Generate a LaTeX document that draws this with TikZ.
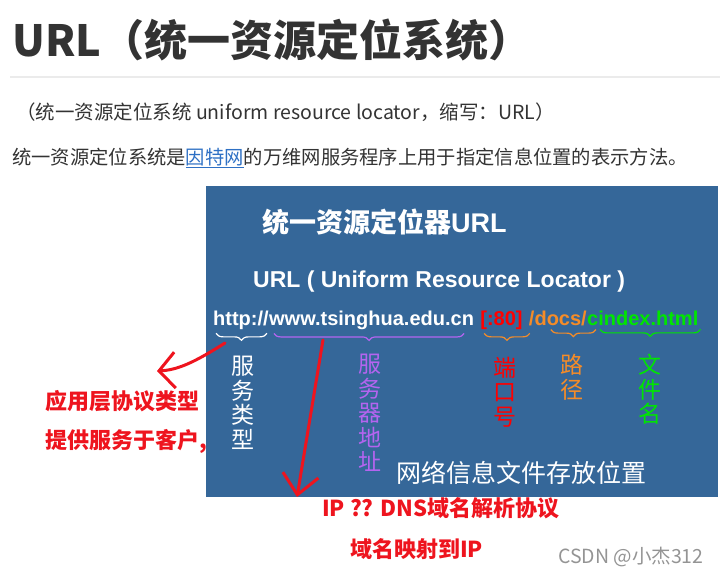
\documentclass[tikz,border=0pt]{standalone}
\usepackage{fontspec}
\setmainfont{Noto Sans CJK SC}
\newfontfamily\arialfont{Liberation Sans}
\usetikzlibrary{arrows.meta,positioning,decorations.pathreplacing}
\definecolor{titlegray}{RGB}{51,51,51}
\definecolor{linkblue}{RGB}{46,112,196}
\definecolor{boxblue}{RGB}{53,103,153}
\definecolor{hostpurple}{RGB}{180,100,240}
\definecolor{pathorange}{RGB}{245,140,40}
\definecolor{filegreen}{RGB}{0,230,0}
\definecolor{annred}{RGB}{238,20,30}

\begin{document}
\begin{tikzpicture}[x=1pt,y=-1pt,
  urltext/.style={font=\arialfont\bfseries\fontsize{20}{24}\selectfont, inner sep=0pt},
  vlabel/.style={font=\fontsize{23}{24.5}\selectfont, align=center, inner sep=0pt, anchor=north},
  note/.style={font=\bfseries\fontsize{22}{24}\selectfont, text=annred, inner sep=0pt, anchor=west},
  urlbrace/.style={decorate, decoration={brace, mirror, amplitude=7pt}, line width=1.2pt},
  handarrow/.style={draw=annred, line width=3pt, line cap=round, line join=round}]
\useasboundingbox (0,0) rectangle (720,577);

% page text
\node[anchor=west, inner sep=0pt, text=titlegray, font=\bfseries\fontsize{43}{48}\selectfont] (title) at (12,40) {URL（统一资源定位系统）};
\draw[black!8, line width=1.5pt] (10,77) -- (720,77);
\node[anchor=west, inner sep=0pt, text=titlegray, font=\fontsize{19.5}{22}\selectfont] (fullname) at (16,112) {（统一资源定位系统 uniform resource locator，缩写：URL）};
\node[anchor=west, inner sep=0pt, text=titlegray, font=\fontsize{19.3}{22}\selectfont] (definition) at (12,158) {统一资源定位系统是\textcolor{linkblue}{\underline{因特网}}的万维网服务程序上用于指定信息位置的表示方法。};

% blue slide
\fill[boxblue] (206,186) rectangle (718,497);
\node[anchor=west, inner sep=0pt, text=white, font=\bfseries\fontsize{27}{30}\selectfont] (slidetitle) at (262,222) {统一资源定位器\arialfont URL};
\node[urltext, text=white, anchor=west, font=\arialfont\bfseries\fontsize{23}{26}\selectfont] (expansion) at (253,282) {URL ( Uniform Resource Locator )};

\node[urltext, text=white, anchor=base west] (scheme) at (213,325) {http://};
\node[urltext, text=white, base right=0pt of scheme] (host) {www.tsinghua.edu.cn};
\node[urltext, text=red, base right=6pt of host] (port) {[:80]};
\node[urltext, text=pathorange, base right=6pt of port] (path) {/docs/};
\node[urltext, text=filegreen, base right=0pt of path] (file) {cindex.html};

\draw[urlbrace, white] ([xshift=3pt,yshift=-4pt]scheme.south west) -- ([xshift=-2pt,yshift=-4pt]scheme.south east);
\draw[urlbrace, hostpurple] ([xshift=5pt,yshift=-4pt]host.south west) -- ([xshift=-10pt,yshift=-4pt]host.south east);
\draw[urlbrace, pathorange] ([xshift=4pt,yshift=-4pt]port.south west) -- ([xshift=7pt,yshift=-4pt]port.south east);
\draw[urlbrace, pathorange] ([xshift=22pt,yshift=-4pt]path.south west) -- ([xshift=9pt,yshift=-4pt]path.south east);
\draw[urlbrace, filegreen] ([xshift=13pt,yshift=-4pt]file.south west) -- ([xshift=2pt,yshift=-4pt]file.south east);

\node[vlabel, text=white] (servicetype) at (243,356) {服\\务\\类\\型};
\node[vlabel, text=hostpurple] (serveraddr) at (370,354) {服\\务\\器\\地\\址};
\node[vlabel, text=red] (portno) at (505,357) {端\\口\\号};
\node[vlabel, text=pathorange] (pathname) at (572,354) {路\\径};
\node[vlabel, text=filegreen] (filename) at (650,354) {文\\件\\名};
\node[anchor=west, inner sep=0pt, text=white, font=\fontsize{25}{28}\selectfont] (location) at (396,473) {网络信息文件存放位置};

% red notes
\node[note] (protocolnote) at (45,401) {应用层协议类型};
\node[note] (clientnote) at (45,441) {提供服务于客户,};
\node[note] (dnsnote) at (322,508) {IP ?? DNS域名解析协议};
\node[note] (mapnote) at (350,549) {域名映射到IP};
\node[anchor=west, inner sep=0pt, text=black!42, font=\fontsize{19.5}{22}\selectfont] (watermark) at (558,557) {CSDN @小杰312};

\coordinate (schemeto) at (225,343);
\coordinate (protoarrow) at (157,371);
\draw[handarrow, -{Straight Barb[length=16pt,width=36pt,line width=3pt]}] (schemeto) .. controls (195,362) and (178,370) .. (protoarrow);
\coordinate (hostto) at (323,340);
\coordinate (dnsarrow) at (297,497);
\draw[handarrow, -{Straight Barb[length=20pt,width=36pt,line width=3pt]}] (hostto) -- (dnsarrow);
\end{tikzpicture}
\end{document}
